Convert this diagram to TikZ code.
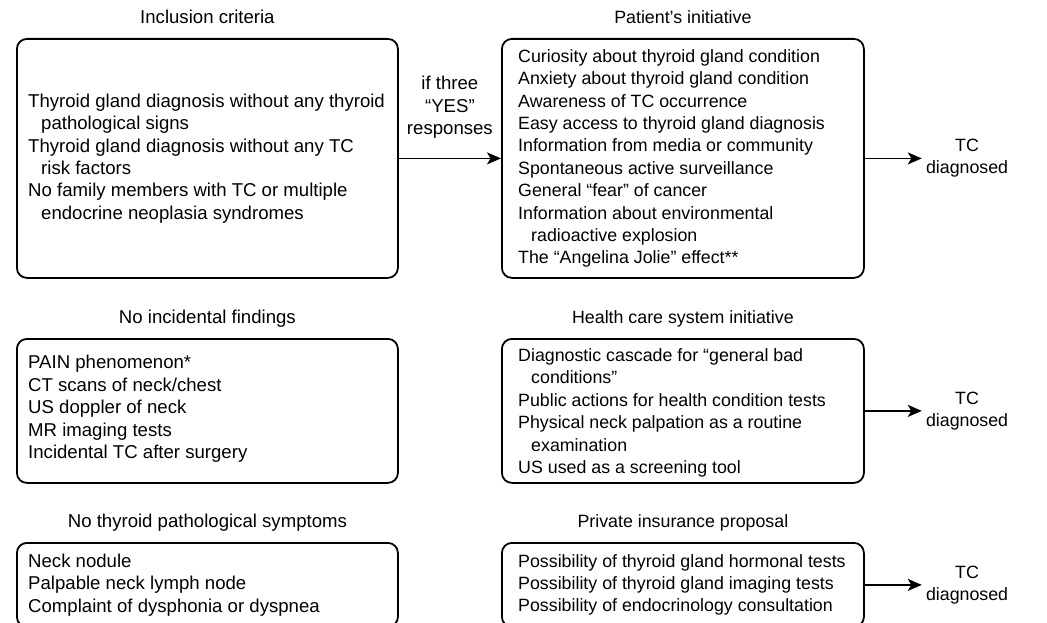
\documentclass[tikz,border=0pt]{standalone}
\usepackage{fontspec}
\setmainfont{Liberation Sans}
\usetikzlibrary{positioning,arrows.meta}

\tikzset{
  box/.style={draw, line width=1.8pt, rounded corners=10pt, anchor=north west, inner sep=0pt},
  lcol/.style={font=\fontsize{18.6}{22.4}\selectfont},
  rcol/.style={font=\fontsize{17.8}{22.4}\selectfont},
  items/.style={align=left, anchor=west, inner sep=0pt},
  title/.style={anchor=base, inner sep=0pt},
  flow/.style={line width=1.6pt, -{Stealth[length=14pt,width=12pt,inset=3.5pt]}},
  result/.style={rcol, align=center, inner xsep=4pt, inner ysep=0pt},
}
\newcommand{\cont}{\hspace*{13pt}}

\begin{document}
\begin{tikzpicture}[x=1pt,y=-1pt]
  \useasboundingbox (0,0) rectangle (1047,623);
  \clip (0,0) rectangle (1047,623);
  % boxes
  \node[box, minimum width=381pt, minimum height=239pt] (incl) at (16,38) {};
  \node[box, minimum width=362pt, minimum height=239pt] (pat) at (501,38) {};
  \node[box, minimum width=381pt, minimum height=144pt] (incid) at (16,338) {};
  \node[box, minimum width=362pt, minimum height=144pt] (hcs) at (501,338) {};
  \node[box, minimum width=381pt, minimum height=84pt] (sympt) at (16,542) {};
  \node[box, minimum width=362pt, minimum height=84pt] (insur) at (501,542) {};
  % titles
  \node[title, lcol] (incltitle) at ([yshift=14.5pt]incl.north) {Inclusion criteria};
  \node[title, rcol] (pattitle) at ([yshift=14.5pt]pat.north) {Patient’s initiative};
  \node[title, lcol] (incidtitle) at ([yshift=14.5pt]incid.north) {No incidental findings};
  \node[title, rcol] (hcstitle) at ([yshift=14.5pt]hcs.north) {Health care system initiative};
  \node[title, lcol] (sympttitle) at ([yshift=14.5pt]sympt.north) {No thyroid pathological symptoms};
  \node[title, rcol] (insurtitle) at ([yshift=14.5pt]insur.north) {Private insurance proposal};
  % contents
  \node[items, lcol] (incltext) at ([xshift=12pt]incl.west)
    {Thyroid gland diagnosis without any thyroid\\
     \cont pathological signs\\
     Thyroid gland diagnosis without any TC\\
     \cont risk factors\\
     No family members with TC or multiple\\
     \cont endocrine neoplasia syndromes};
  \node[items, rcol] (pattext) at ([xshift=17pt]pat.west)
    {Curiosity about thyroid gland condition\\
     Anxiety about thyroid gland condition\\
     Awareness of TC occurrence\\
     Easy access to thyroid gland diagnosis\\
     Information from media or community\\
     Spontaneous active surveillance\\
     General “fear” of cancer\\
     Information about environmental\\
     \cont radioactive explosion\\
     The “Angelina Jolie” effect**};
  \node[items, lcol] (incidtext) at ([xshift=12pt,yshift=2pt]incid.west)
    {PAIN phenomenon*\\
     CT scans of neck/chest\\
     US doppler of neck\\
     MR imaging tests\\
     Incidental TC after surgery};
  \node[items, rcol] (hcstext) at ([xshift=17pt,yshift=-2pt]hcs.west)
    {Diagnostic cascade for “general bad\\
     \cont conditions”\\
     Public actions for health condition tests\\
     Physical neck palpation as a routine\\
     \cont examination\\
     US used as a screening tool};
  \node[items, lcol] (sympttext) at ([xshift=12pt]sympt.west)
    {Neck nodule\\
     Palpable neck lymph node\\
     Complaint of dysphonia or dyspnea};
  \node[items, rcol] (insurtext) at ([xshift=17pt]insur.west)
    {Possibility of thyroid gland hormonal tests\\
     Possibility of thyroid gland imaging tests\\
     Possibility of endocrinology consultation};
  % outcomes
  \node[result, right=57pt of pat] (dx1) {TC\\ diagnosed};
  \node[result, right=57pt of hcs] (dx2) {TC\\ diagnosed};
  \node[result, right=57pt of insur] (dx3) {TC\\ diagnosed};
  % connectors
  \draw[flow] (incl.east) -- node[midway, above=19pt, lcol, align=center, inner sep=0pt] (cond)
    {if three\\ “YES”\\ responses} (pat.west);
  \draw[flow] (pat.east) -- (dx1.west);
  \draw[flow] (hcs.east) -- (dx2.west);
  \draw[flow] (insur.east) -- (dx3.west);
\end{tikzpicture}
\end{document}
